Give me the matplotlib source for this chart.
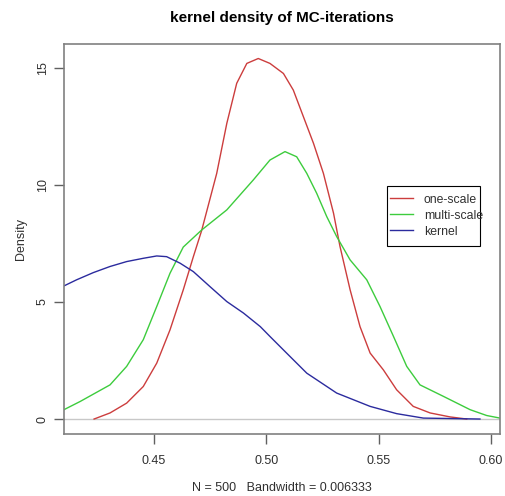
import numpy as np
import matplotlib.pyplot as plt
from matplotlib.patches import Rectangle

plt.rcParams['font.family'] = ['Liberation Sans', 'DejaVu Sans']

# density curves
x_one = [0.4233, 0.4304, 0.4378, 0.4452, 0.4512, 0.4571, 0.4630, 0.4675, 0.4712, 0.4779,
         0.4824, 0.4868, 0.4913, 0.4964, 0.5016, 0.5076, 0.5120, 0.5165, 0.5210, 0.5254,
         0.5299, 0.5328, 0.5373, 0.5417, 0.5462, 0.5521, 0.5580, 0.5654, 0.5729, 0.5818, 0.5892]
y_one = [0.0, 0.26, 0.68, 1.39, 2.39, 3.81, 5.52, 6.94, 8.06, 10.5,
         12.64, 14.35, 15.2, 15.41, 15.2, 14.77, 14.06, 12.92, 11.78, 10.5,
         8.8, 7.37, 5.52, 3.95, 2.82, 2.1, 1.25, 0.54, 0.26, 0.09, 0.0]

x_multi = [0.4099, 0.4171, 0.4304, 0.4378, 0.4452, 0.4512, 0.4571, 0.4630, 0.4712, 0.4824,
           0.4942, 0.5016, 0.5083, 0.5135, 0.5180, 0.5224, 0.5269, 0.5313, 0.5373, 0.5447,
           0.5506, 0.5566, 0.5625, 0.5684, 0.5788, 0.5907, 0.5981, 0.6040]
y_multi = [0.40, 0.75, 1.46, 2.25, 3.39, 4.81, 6.23, 7.35, 8.08, 8.94,
           10.22, 11.07, 11.43, 11.21, 10.5, 9.65, 8.65, 7.8, 6.8, 5.95,
           4.81, 3.53, 2.25, 1.46, 0.97, 0.40, 0.15, 0.04]

x_kern = [0.4099, 0.4155, 0.4230, 0.4304, 0.4378, 0.4452, 0.4512, 0.4556, 0.4616, 0.4675,
          0.4749, 0.4824, 0.4898, 0.4973, 0.5016, 0.5090, 0.5180, 0.5313, 0.5462, 0.5580,
          0.5699, 0.5951]
y_kern = [5.69, 5.95, 6.26, 6.52, 6.73, 6.87, 6.97, 6.94, 6.66, 6.30,
          5.66, 5.02, 4.53, 3.95, 3.53, 2.82, 1.96, 1.11, 0.54, 0.23,
          0.04, 0.0]

labels = ['one-scale', 'multi-scale', 'kernel']
colors = ['#cc3d3d', '#3dcc3d', '#2b2b9e']
xticks = [0.45, 0.50, 0.55, 0.60]
yticks = [0, 5, 10, 15]

fig = plt.figure(figsize=(5.05, 4.96), dpi=100)
ax = fig.add_axes([0.1267, 0.125, 0.8633, 0.7863])

ax.axhline(0, color='#c8c8c8', lw=1, zorder=1)
ax.plot(x_one, y_one, color=colors[0], lw=1, label=labels[0])
ax.plot(x_multi, y_multi, color=colors[1], lw=1, label=labels[1])
ax.plot(x_kern, y_kern, color=colors[2], lw=1, label=labels[2])

ax.set_xlim(0.4099, 0.6040)
ax.set_ylim(-0.64, 16.03)
ax.set_xticks(xticks)
ax.set_xticklabels(['%.2f' % v for v in xticks])
ax.set_yticks(yticks)
ax.set_yticklabels([str(v) for v in yticks], rotation=90, va='center')

for s in ax.spines.values():
    s.set_color('#808080')
    s.set_linewidth(1.2)
ax.tick_params(direction='out', length=7, width=1, color='#606060',
               labelsize=9, labelcolor='#303030')
ax.tick_params(axis='x', pad=8)
ax.tick_params(axis='y', pad=4)

ax.set_title('kernel density of MC-iterations', fontsize=11, fontweight='bold', pad=16)
ax.set_xlabel('N = 500   Bandwidth = 0.006333', fontsize=9, color='#303030', labelpad=11)
ax.set_ylabel('Density', fontsize=9, color='#303030', labelpad=7)

# legend: entries without frame, plain black box drawn around them
leg = ax.legend(loc='center left', bbox_to_anchor=(0.748, 0.560), fontsize=8.8,
                frameon=False, handlelength=1.9, handletextpad=0.85,
                labelspacing=0.33, borderpad=0, borderaxespad=0)
for t in leg.get_texts():
    t.set_color('#303030')
ax.add_patch(Rectangle((0.741, 0.482), 0.213, 0.154, transform=ax.transAxes,
                       fill=False, edgecolor='black', lw=0.8, zorder=5))

fig.savefig('out.png', dpi=100)
